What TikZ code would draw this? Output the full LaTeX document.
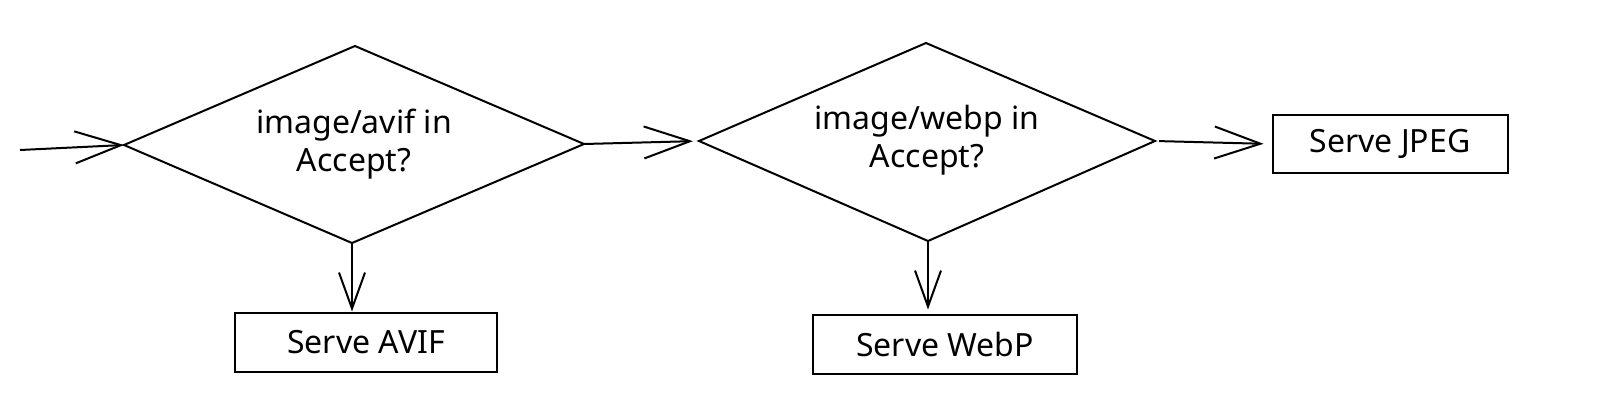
\documentclass[tikz,border=0pt]{standalone}
\usepackage{fontspec}
\setmainfont{Noto Sans}
\usetikzlibrary{arrows.meta}
\begin{document}
\begin{tikzpicture}[x=0.5pt,y=-0.5pt,
  line width=1pt,
  label/.style={inner sep=0pt,align=center,font=\fontsize{16}{19}\selectfont},
  outbox/.style={rectangle,draw,inner sep=0pt,font=\fontsize{16}{18}\selectfont},
  conn/.style={-{Straight Barb[length=23pt,width=16pt,line width=1pt]}},
  connd/.style={-{Straight Barb[length=18pt,width=13pt,line width=1pt]}}]
\fill[white] (0,0) rectangle (1600,407);
\useasboundingbox (0,0) rectangle (1600,407);
% decision 1
\coordinate (d1w) at (124,145);
\coordinate (d1n) at (355,46);
\coordinate (d1e) at (584,144);
\coordinate (d1s) at (352,243);
\draw (d1w) -- (d1n) -- (d1e) -- (d1s) -- cycle;
\node[label] (t1) at (354,144) {image/avif in\\Accept?};
% decision 2
\coordinate (d2w) at (699,141);
\coordinate (d2n) at (926,43);
\coordinate (d2e) at (1155,141);
\coordinate (d2s) at (928,241);
\draw (d2w) -- (d2n) -- (d2e) -- (d2s) -- cycle;
\node[label] (t2) at (927,140) {image/webp in\\Accept?};
% outcomes
\node[outbox,minimum width=117.5pt,minimum height=29pt] (jpeg) at (1390,144) {Serve JPEG};
\node[outbox,minimum width=131pt,minimum height=29.5pt] (avif) at (366,342) {Serve AVIF};
\node[outbox,minimum width=132pt,minimum height=29.5pt] (webp) at (945,344) {Serve WebP};
\coordinate (in) at (20,150);
\draw[conn] (in) -- (d1w);
\draw[conn,shorten >=3pt] (d1e) -- (d2w);
\draw[conn,shorten >=4pt,shorten <=2pt] (d2e) -- (jpeg.west);
\draw[connd] (d1s) -- (d1s |- avif.north);
\draw[connd,shorten >=2pt] (d2s) -- (d2s |- webp.north);
\end{tikzpicture}
\end{document}
